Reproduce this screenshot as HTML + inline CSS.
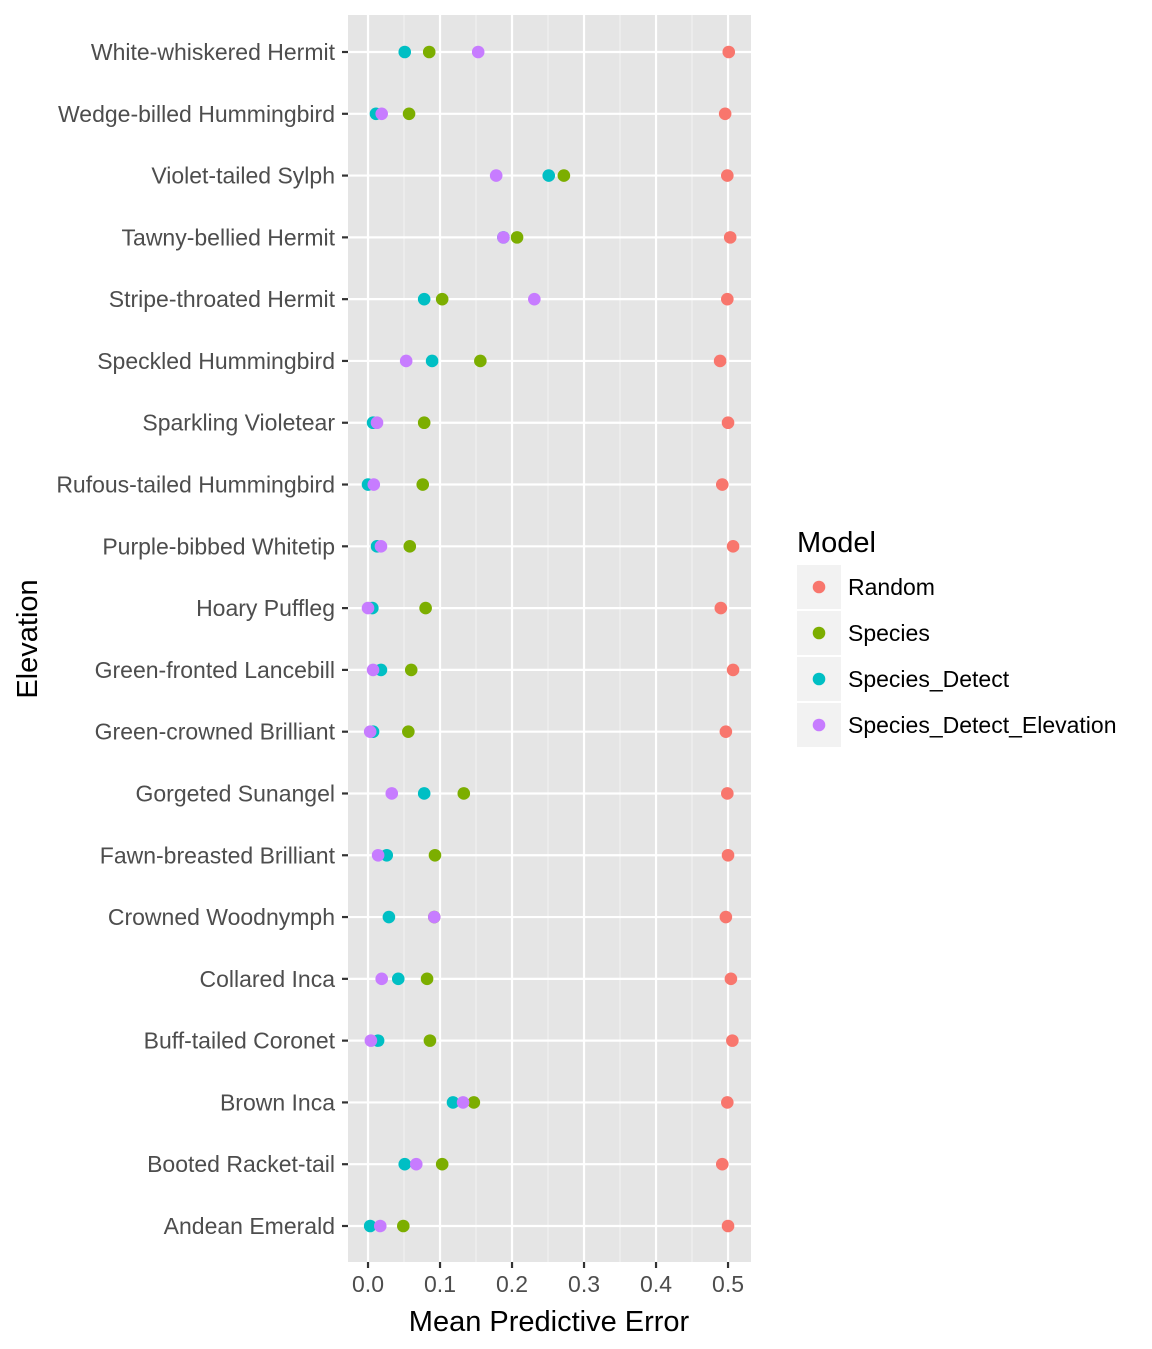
<!DOCTYPE html>
<html><head><meta charset="utf-8"><style>
body{margin:0;background:#fff;}
svg text{font-family:"Liberation Sans",Arial,sans-serif;}
</style></head><body>
<svg id="chart" width="1152" height="1344" xmlns="http://www.w3.org/2000/svg">
<rect x="348" y="15" width="403" height="1247" fill="#e5e5e5"/>
<g id="grid"></g><g id="points"></g><g id="yaxis"></g><g id="xaxis"></g>
<text x="549" y="1331" font-size="29" text-anchor="middle" fill="#000">Mean Predictive Error</text>
<text transform="translate(37,639) rotate(-90)" font-size="29" text-anchor="middle" fill="#000">Elevation</text>
<g id="legend">
<text x="797" y="552" font-size="29" fill="#000">Model</text>
</g>
</svg>
<script>
const categories=["White-whiskered Hermit","Wedge-billed Hummingbird","Violet-tailed Sylph","Tawny-bellied Hermit","Stripe-throated Hermit","Speckled Hummingbird","Sparkling Violetear","Rufous-tailed Hummingbird","Purple-bibbed Whitetip","Hoary Puffleg","Green-fronted Lancebill","Green-crowned Brilliant","Gorgeted Sunangel","Fawn-breasted Brilliant","Crowned Woodnymph","Collared Inca","Buff-tailed Coronet","Brown Inca","Booted Racket-tail","Andean Emerald"];
const seriesNames=["Random","Species","Species_Detect","Species_Detect_Elevation"];
const seriesColors=["#F8766D","#7CAE00","#00BFC4","#C77CFF"];
const randomVals=[0.501,0.496,0.499,0.503,0.499,0.489,0.500,0.492,0.507,0.490,0.507,0.497,0.499,0.500,0.497,0.504,0.506,0.499,0.492,0.500];
const speciesVals=[0.085,0.057,0.272,0.207,0.103,0.156,0.078,0.076,0.058,0.080,0.060,0.056,0.133,0.093,0.092,0.082,0.086,0.147,0.103,0.049];
const detectVals=[0.051,0.011,0.251,0.188,0.078,0.089,0.007,0.000,0.0125,0.006,0.018,0.007,0.078,0.026,0.029,0.042,0.014,0.118,0.051,0.003];
const elevVals=[0.153,0.019,0.178,0.188,0.231,0.053,0.0125,0.008,0.018,0.000,0.007,0.003,0.033,0.014,0.092,0.019,0.004,0.132,0.067,0.017];
const xTicks=[0,0.1,0.2,0.3,0.4,0.5];
const xTickLabels=["0.0","0.1","0.2","0.3","0.4","0.5"];
const NS="http://www.w3.org/2000/svg";
const X0=348,X1=751,Y0=15,Y1=1262;
const xMin=-0.0278,xMax=0.5319;
function xs(v){return X0+(v-xMin)/(xMax-xMin)*(X1-X0);}
const yTop=52,yBot=1226;
function ys(i){return yTop+i*(yBot-yTop)/(categories.length-1);}
function mk(tag,attrs,parent){const e=document.createElementNS(NS,tag);for(const k in attrs)e.setAttribute(k,attrs[k]);parent.appendChild(e);return e;}
const grid=document.getElementById('grid'),pts=document.getElementById('points'),ya=document.getElementById('yaxis'),xa=document.getElementById('xaxis');
for(let i=0;i<xTicks.length;i++){
  const mv=xTicks[i]+0.05;
  if(xs(mv)<X1){const m=mk('line',{x1:xs(mv),x2:xs(mv),y1:Y0,y2:Y1,stroke:'#f2f2f2','stroke-width':1.1},grid);
  
  }
}
xTicks.forEach((t,i)=>{
  const x=xs(t);
  const g=mk('line',{x1:x,x2:x,y1:Y0,y2:Y1,stroke:'#fff','stroke-width':2.2},grid);
  
  
  const tk=mk('line',{x1:x,x2:x,y1:Y1,y2:Y1+6,stroke:'#333','stroke-width':2.2},xa);
  
  
  const tl=mk('text',{x:x,y:Y1+30,'font-size':23,'text-anchor':'middle',fill:'#4d4d4d'},xa);
  tl.textContent=xTickLabels[i];
  
  
});
categories.forEach((c,i)=>{
  const y=ys(i);
  const g=mk('line',{x1:X0,x2:X1,y1:y,y2:y,stroke:'#fff','stroke-width':2.2},grid);
  
  
  const tk=mk('line',{x1:X0-6,x2:X0,y1:y,y2:y,stroke:'#333','stroke-width':2.2},ya);
  
  
  const tl=mk('text',{x:X0-13,y:y+8,'font-size':23,'text-anchor':'end',fill:'#4d4d4d'},ya);
  tl.textContent=c;
  
  
});
const allSeries=[randomVals,speciesVals,detectVals,elevVals];
allSeries.forEach((vals,s)=>{
  vals.forEach((v,i)=>{
    const p=mk('circle',{cx:xs(v),cy:ys(i),r:6.3,fill:seriesColors[s]},pts);
    
    
  });
});
const lg=document.getElementById('legend');
seriesNames.forEach((n,i)=>{
  const y=565+i*46;
  const b=mk('rect',{x:797,y:y,width:44,height:44,fill:'#f2f2f2'},lg);
  
  
  const c=mk('circle',{cx:819,cy:y+22,r:6.3,fill:seriesColors[i]},lg);
  
  
  const t=mk('text',{x:848,y:y+30,'font-size':23,fill:'#000'},lg);
  t.textContent=n;
  
  
});
</script>
</body></html>
